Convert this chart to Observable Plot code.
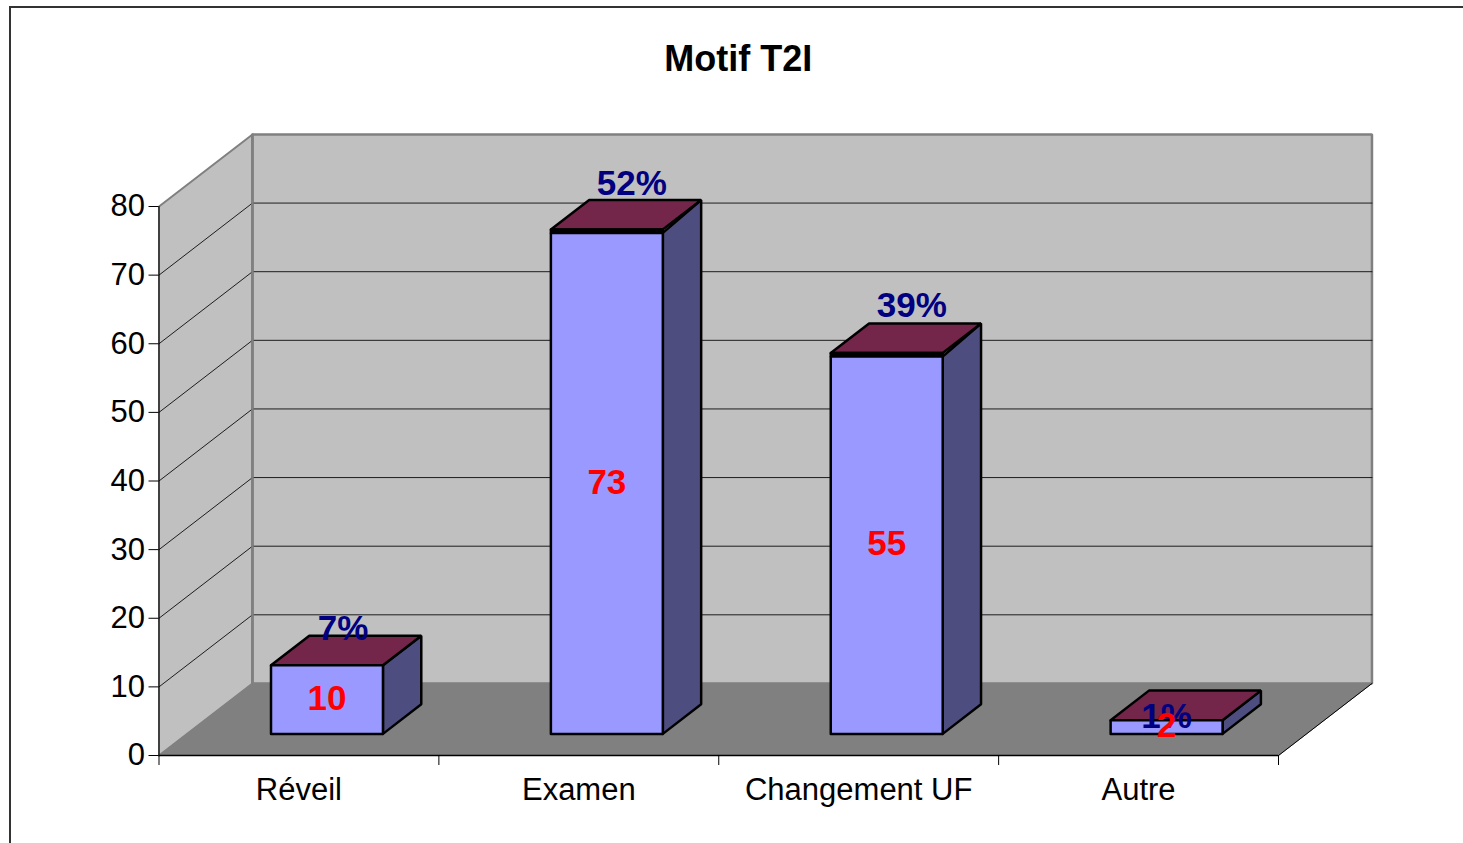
<!DOCTYPE html>
<html><head><meta charset="utf-8">
<script src="https://cdn.jsdelivr.net/npm/d3@7"></script>
<script src="https://cdn.jsdelivr.net/npm/@observablehq/plot@0.6"></script>
<style>
html,body{margin:0;padding:0;background:#fff;overflow:hidden}
#frame{position:absolute;left:9px;top:6px;width:1454px;height:837px;box-sizing:border-box;border-left:2px solid #333;border-top:2px solid #333}
#chart{position:absolute;left:0;top:0}
</style></head><body>
<div id="frame"></div><div id="chart"></div>
<script>
const categories = ["Réveil","Examen","Changement UF","Autre"];
const counts = [10,73,55,2];
const percents = ["7%","52%","39%","1%"];
const gridValues = [10,20,30,40,50,60,70];
const axisValues = [0,10,20,30,40,50,60,70,80];
const yMax = 80, nCat = 4;

// layout (pixels of the plot frame)
const W=1463,H=843,mL=158.5,mR=185,mT=206,mB=88;
const pxX=(W-mL-mR)/nCat, pxY=(H-mT-mB)/yMax;
// percent label offsets from the top-centre of each bar's front face
const pctDx=[16,25,25,0], pctDy=[-36,-49,-51,-3];

// oblique projection: depth 0 = front of the floor, depth 1 = back wall
const depthX = 0.334, depthY = 10.5;
const P = (c,v,d=0)=>({x:c+d*depthX, y:v+d*depthY});
const poly = (pts,opt)=>Plot.line([...pts,pts[0]],{x:"x",y:"y",curve:"linear",strokeLinejoin:"miter",...opt});

const barStart=0.3, barWidth=0.4, d0=0.3, d1=0.71;
const bars = categories.map((name,i)=>({name,i,v:counts[i],l:i+barStart,r:i+barStart+barWidth,pct:percents[i],
  slab:counts[i]>50?0.5:0,dx:pctDx[i],dy:pctDy[i]}));

const marks=[
  poly([P(0,0,0),P(0,yMax,0),P(0,yMax,1),P(0,0,1)],{fill:"#c0c0c0",stroke:"#808080",strokeWidth:2}),
  poly([P(0,0,1),P(0,yMax,1),P(nCat,yMax,1),P(nCat,0,1)],{fill:"#c0c0c0",stroke:"#808080",strokeWidth:2.5}),
  poly([P(0,0,0),P(0,0,1),P(nCat,0,1),P(nCat,0,0)],{fill:"#808080",stroke:"#808080",strokeWidth:1}),
  Plot.line([P(nCat,0,0),P(nCat,0,1)],{x:"x",y:"y",stroke:"#000",strokeWidth:1}),
  Plot.ruleX([0],{stroke:"#000",strokeWidth:1}),
  Plot.ruleY([0],{stroke:"#000",strokeWidth:1.5}),
];
for(const g of gridValues){
  marks.push(Plot.line([P(0,g,0),P(0,g,1),P(nCat,g,1)],{x:"x",y:"y",stroke:"#000",strokeWidth:1,strokeOpacity:0.85}));
}
// redraw the inner corner over the grid lines
marks.push(Plot.line([P(0,0,1),P(0,yMax,1)],{x:"x",y:"y",stroke:"#808080",strokeWidth:2.5}));
for(const b of bars){
  const t=b.v+b.slab;
  marks.push(poly([P(b.r,0,d0),P(b.r,b.v,d0),P(b.r,t,d1),P(b.r,0,d1)],{fill:"#4d4d80",stroke:"#000",strokeWidth:2.5}));
  marks.push(poly([P(b.l,t,d0),P(b.l,t,d1),P(b.r,t,d1),P(b.r,t,d0)],{fill:"#732649",stroke:"#000",strokeWidth:2.5}));
  if(b.slab) marks.push(poly([P(b.l,b.v,d0),P(b.l,t,d0),P(b.r,t,d0),P(b.r,b.v,d0)],{fill:"#000",stroke:"#000",strokeWidth:2.5}));
  marks.push(poly([P(b.l,0,d0),P(b.l,b.v,d0),P(b.r,b.v,d0),P(b.r,0,d0)],{fill:"#9999ff",stroke:"#000",strokeWidth:2.5}));
}
marks.push(
  Plot.axisY({ticks:axisValues,tickSize:10,tickPadding:4,fontSize:31,label:null,stroke:"#000",fontFamily:"Liberation Sans"}),
  Plot.axisX({ticks:[0,1,2,3,4],tickSize:10,tickFormat:()=>"",label:null}),
  Plot.axisX({ticks:[0.5,1.5,2.5,3.5],tickSize:0,tickPadding:22,tickFormat:t=>categories[t-0.5],fontSize:31,label:null,fontFamily:"Liberation Sans"}),
  Plot.text(bars,{x:b=>P(b.l+barWidth/2,0,d0).x+b.dx/pxX,y:b=>P(0,b.v,d0).y-b.dy/pxY,text:"pct",fill:"#000080",fontSize:35,fontWeight:"bold",fontFamily:"Liberation Sans"}),
  Plot.text(bars,{x:b=>P(b.l+barWidth/2,0,d0).x,y:b=>P(0,b.v/2,d0).y,dy:-1,text:b=>String(b.v),fill:"#ff0000",fontSize:35,fontWeight:"bold",fontFamily:"Liberation Sans"}),
  Plot.text(["Motif T2I"],{x:()=>2.07,y:()=>yMax,dy:-147.5,text:d=>d,fontSize:36,fontWeight:"bold",fill:"#000",fontFamily:"Liberation Sans"})
);
const chart = Plot.plot({
  width:W,height:H,marginLeft:mL,marginRight:mR,marginTop:mT,marginBottom:mB,
  style:{background:"transparent",overflow:"visible",fontFamily:"Liberation Sans"},
  x:{domain:[0,nCat],axis:null},
  y:{domain:[0,yMax],axis:null},
  marks
});
document.getElementById("chart").appendChild(chart);
</script></body></html>
